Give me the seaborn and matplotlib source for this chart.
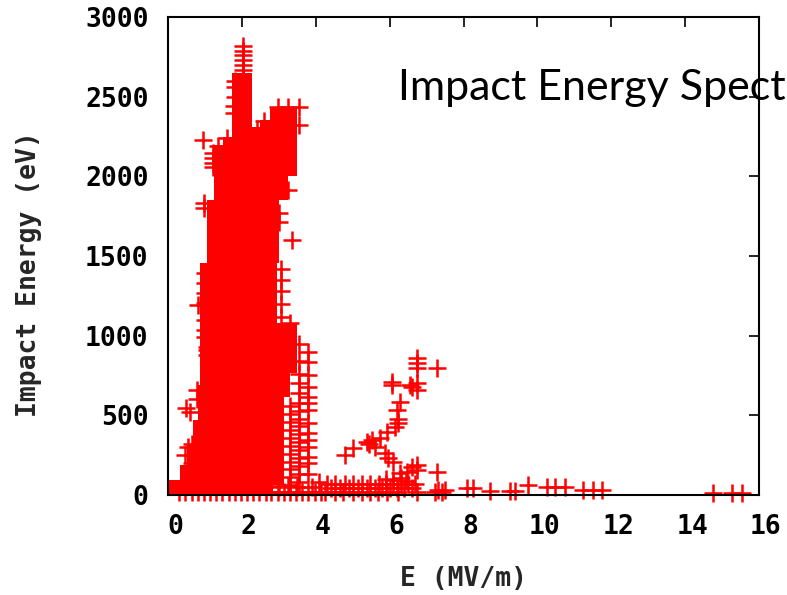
import matplotlib
matplotlib.use("Agg")
import matplotlib.pyplot as plt
import matplotlib.transforms as mtransforms
import seaborn as sns

# solid core of the cloud, read as energy ranges per field band
core_e_lo = [0.00, 0.32, 0.51, 0.68, 0.81, 0.87, 1.06, 1.25, 1.49, 1.73, 2.27, 2.49, 2.76, 3.00, 3.25,
             2.76, 2.76, 2.84, 2.84, 2.84]
core_e_hi = [0.32, 0.51, 0.68, 0.81, 0.87, 1.06, 1.25, 1.49, 1.73, 2.27, 2.49, 2.76, 3.00, 3.25, 3.49,
             2.84, 2.95, 3.49, 3.30, 3.15]
core_v_lo = [0, 0, 0, 0, 0, 0, 0, 0, 0, 0, 0, 0, 1456, 1851, 2000,
             0, 1080, 766, 615, 60]
core_v_hi = [94, 190, 314, 470, 690, 1456, 1851, 2197, 2247, 2648, 2310, 2353, 2435, 2435, 2435,
             1080, 1456, 1080, 766, 615]

# spike near 2 MV/m
spike_e = [2.02, 2.02, 2.02, 2.02, 2.02, 2.02, 1.80, 1.80, 1.80, 1.78, 1.78, 2.00, 2.00]
spike_v = [2818, 2785, 2762, 2730, 2699, 2667, 2600, 2560, 2500, 2440, 2400, 2540, 2460]

# crosses along the edges of the main cloud
edge_e = [0.96, 1.22, 1.22, 1.22, 1.22, 0.97, 0.97, 1.00, 1.00, 1.00, 1.00, 0.80, 1.00, 1.00, 1.00,
          1.05, 1.05, 1.05, 0.78, 0.78, 0.50, 0.60, 0.54, 0.65, 0.65, 0.45,
          2.99, 3.26, 3.55, 3.55, 3.00, 3.00, 3.35, 3.25, 1.35, 1.60, 2.40, 2.60, 3.30]
edge_v = [2228, 2146, 2115, 2084, 2058, 1833, 1801, 1393, 1330, 1268, 1205, 1190, 1098, 1036, 992,
          929, 910, 879, 659, 600, 546, 520, 301, 320, 200, 250,
          2435, 2435, 2435, 2322, 1770, 1713, 1600, 1914, 2190, 2240, 2300, 2350, 1080]

# lacy region right of the core
lace_e = [3.05, 3.05, 3.05, 3.05, 3.05,
          3.30, 3.30, 3.30, 3.30, 3.30, 3.30, 3.30, 3.30, 3.30, 3.30, 3.30,
          3.55, 3.55, 3.55, 3.55, 3.55, 3.55, 3.55, 3.55, 3.55, 3.55, 3.55, 3.55, 3.55, 3.55, 3.55, 3.55,
          3.78, 3.78, 3.78, 3.78, 3.78, 3.78, 3.78, 3.78, 3.78, 3.78, 3.78, 3.78, 3.78, 3.78]
lace_v = [1120, 1200, 1280, 1350, 1420,
          60, 110, 160, 210, 260, 310, 360, 410, 460, 510, 560,
          80, 130, 180, 230, 280, 330, 380, 430, 480, 530, 580, 640, 700, 760, 840, 950,
          130, 200, 240, 300, 345, 390, 450, 535, 580, 615, 680, 755, 835, 900]

# secondary branch between 4 and 7.5 MV/m
mid_e = [6.73, 6.73, 6.73, 7.27, 6.73, 6.73, 6.55, 6.60, 6.06, 6.06, 6.28, 6.20, 6.23, 6.23, 6.14, 5.92,
         5.74, 5.51, 5.60, 5.38, 5.45, 5.02, 4.79, 5.87, 5.96, 6.10, 6.73, 6.73, 6.60, 6.46, 6.28, 7.27]
mid_v = [858, 827, 795, 795, 703, 659, 690, 680, 711, 690, 585, 533, 477, 452, 429, 397,
         356, 345, 303, 335, 320, 293, 251, 262, 230, 209, 188, 157, 175, 146, 136, 146]

# low energy band near the axis
low_e = [0.30, 0.47, 0.64, 0.80, 0.97, 1.14, 1.30, 1.47, 1.64, 1.80, 1.97, 2.14, 2.30, 2.47,
         2.64, 2.80, 2.97, 3.14, 3.30, 3.47, 3.64, 3.80, 3.97, 4.14, 4.25, 4.52, 4.74, 5.00,
         5.25, 5.47, 5.69, 5.93, 6.23, 6.74, 7.23, 7.30, 7.41, 7.50,
         2.75, 3.00, 3.25, 3.50, 3.90, 4.10, 4.30, 4.52, 4.79, 5.02, 5.25, 5.47, 5.70, 5.90,
         6.10, 6.30, 6.50, 6.70, 5.90, 6.10, 6.30, 6.45,
         4.40, 4.65, 4.90, 5.15, 5.40, 5.60, 5.80, 6.00, 6.20, 6.40, 6.60,
         8.09, 8.27, 8.72, 9.26, 9.39, 9.75, 10.25, 10.48, 10.75, 11.24, 11.51, 11.74,
         14.76, 15.26, 15.53]
low_v = [20, 20, 20, 20, 20, 20, 20, 20, 20, 20, 20, 20, 20, 20,
         20, 20, 20, 20, 20, 20, 20, 20, 20, 20, 20, 20, 20, 20,
         20, 20, 20, 20, 20, 20, 20, 30, 20, 30,
         55, 50, 55, 50, 50, 80, 69, 69, 69, 69, 69, 69, 69, 69,
         69, 69, 69, 69, 100, 95, 105, 90,
         45, 45, 45, 45, 45, 45, 45, 45, 45, 45, 45,
         44, 44, 27, 25, 25, 63, 50, 50, 50, 30, 30, 30,
         15, 15, 15]

pts_e = spike_e + edge_e + lace_e + mid_e + low_e
pts_v = spike_v + edge_v + lace_v + mid_v + low_v

x_ticks = [0, 2, 4, 6, 8, 10, 12, 14, 16]
y_ticks = [0, 500, 1000, 1500, 2000, 2500, 3000]

sns.set_style("white")
plt.rcParams['font.family'] = ['DejaVu Sans Mono']

fig = plt.figure(figsize=(7.87, 5.95), dpi=100)
ax = fig.add_axes([0.2135, 0.1681, 0.7509, 0.8033])

red = "#ff0000"
widths = [hi - lo for lo, hi in zip(core_e_lo, core_e_hi)]
heights = [hi - lo for lo, hi in zip(core_v_lo, core_v_hi)]
ax.bar(core_e_lo, heights, width=widths, bottom=core_v_lo, align="edge",
       color=red, linewidth=0, zorder=1)

sns.scatterplot(x=pts_e, y=pts_v, ax=ax, marker="+", s=170, color=red,
                linewidth=1.8, clip_on=False, zorder=1.5)

ax.set_xlim(0, 16)
ax.set_ylim(0, 3000)
ax.set_xticks(x_ticks)
ax.set_yticks(y_ticks)
ax.tick_params(direction="in", length=7, width=1.2, top=True, right=True,
               labelsize=19, pad=14, colors="black")
for lab in ax.get_xticklabels() + ax.get_yticklabels():
    lab.set_fontweight("bold")
offset = mtransforms.ScaledTranslation(0.07, 0, fig.dpi_scale_trans)
for lab in ax.get_xticklabels():
    lab.set_transform(lab.get_transform() + offset)

for sp in ax.spines.values():
    sp.set_linewidth(1.5)
    sp.set_color("black")
    sp.set_zorder(3)

ax.set_xlabel("E (MV/m)", fontsize=19, fontweight="bold")
ax.set_ylabel("Impact Energy (eV)", fontsize=19, fontweight="bold")
ax.xaxis.set_label_coords(0.5, -0.148)
ax.yaxis.set_label_coords(-0.213, 0.463)

fig.text(398 / 787, 1 - 100 / 595, "Impact Energy Spect", fontsize=31,
         family=["Lato", "DejaVu Sans"], va="baseline", ha="left", color="black")

fig.savefig("out.png", dpi=100)
